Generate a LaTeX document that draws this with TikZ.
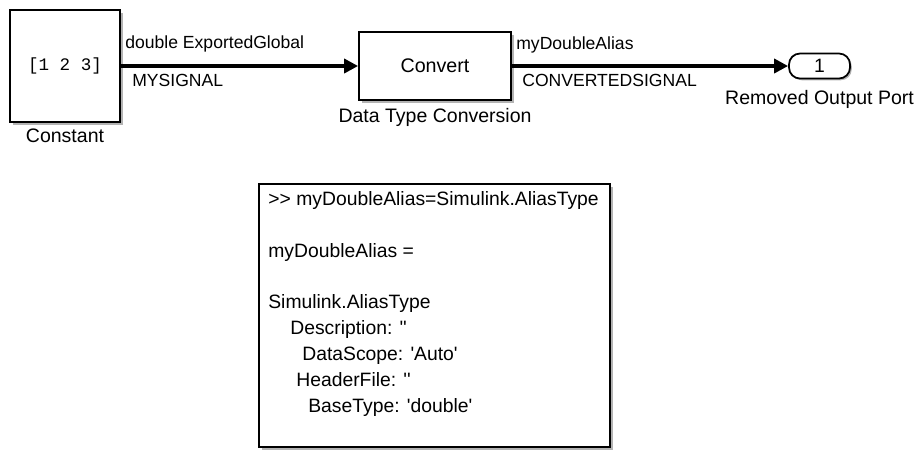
\documentclass[tikz,border=0pt]{standalone}
\usepackage{fontspec}
\newfontfamily\simfont{Liberation Sans}
\newfontfamily\simmono{Liberation Mono}
\usetikzlibrary{positioning,arrows.meta,shadows}

\begin{document}
\begin{tikzpicture}[
  block/.style={
    rectangle, draw, line width=1pt, fill=white,
    drop shadow={shadow xshift=1.5pt, shadow yshift=-1.5pt,
      fill=black!50, opacity=0.6},
    font=\simfont\fontsize{11.2}{13}\selectfont
  },
  outport/.style={
    rectangle, draw, line width=1pt, fill=white,
    rounded corners=0.22cm, minimum width=1.22cm, minimum height=0.44cm,
    drop shadow={shadow xshift=1pt, shadow yshift=-1pt,
      fill=black!50, opacity=0.6},
    font=\simfont\fontsize{11}{13}\selectfont
  },
  lbl/.style={font=\simfont\fontsize{11.1}{13}\selectfont, inner sep=0pt},
  siglbl/.style={font=\simfont\fontsize{10}{12}\selectfont, inner sep=0pt},
  sig/.style={-{Triangle[length=8pt,width=8pt]}, line width=2pt}
]
\useasboundingbox (0,0) rectangle (18.48,-9.02);

% Blocks
\node[block, minimum width=2.2cm, minimum height=2.24cm] (const) at (1.3,-1.32)
  {\simmono\fontsize{10}{12}\selectfont [1 2 3]};
\node[below=3pt of const.south, anchor=north, lbl] (constlbl) {Constant};

\node[block, minimum width=3.04cm, minimum height=1.36cm] (conv) at (8.7,-1.32)
  {Convert};
\node[below=4pt of conv.south, anchor=north, lbl] (convlbl) {Data Type Conversion};

\node[outport] (port) at (16.39,-1.32) {1};
\node[below=6pt of port.south, anchor=north, lbl] (portlbl) {Removed Output Port};

% Signal lines
\draw[sig] (const.east) -- (conv.west);
\draw[sig] (conv.east) -- (port.west);

% Signal labels
\node[siglbl, anchor=west] (sigA) at (2.5,-0.88) {double ExportedGlobal};
\node[siglbl, anchor=west] (sigB) at (2.64,-1.6) {MYSIGNAL};
\node[siglbl, anchor=west] (sigC) at (10.32,-0.9) {myDoubleAlias};
\node[siglbl, anchor=west] (sigD) at (10.44,-1.6) {CONVERTEDSIGNAL};

% Command window excerpt
\node[block, minimum width=7.02cm, minimum height=5.26cm] (console) at (8.69,-6.31) {};
\node[lbl, anchor=north west, align=left,
  font=\simfont\fontsize{11}{14.7}\selectfont] (consoletxt) at (5.36,-3.82) {
  >> myDoubleAlias=Simulink.AliasType\\[14.7pt]
  myDoubleAlias =\\[14.7pt]
  Simulink.AliasType\\
  \hspace*{0.44cm}Description: ''\\
  \hspace*{0.68cm}DataScope: 'Auto'\\
  \hspace*{0.56cm}HeaderFile: ''\\
  \hspace*{0.8cm}BaseType: 'double'
};

\end{tikzpicture}
\end{document}
